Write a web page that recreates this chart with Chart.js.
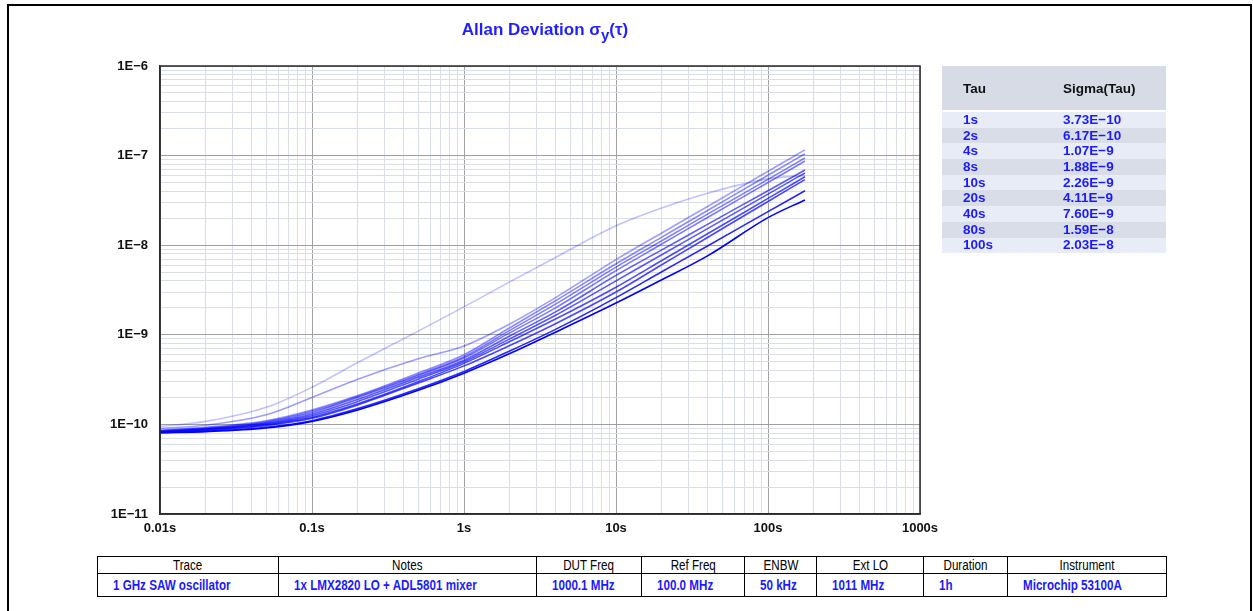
<!DOCTYPE html>
<html>
<head>
<meta charset="utf-8">
<script src="https://cdn.jsdelivr.net/npm/chart.js@4.4.0/dist/chart.umd.min.js"></script>
<style>
    body { margin: 0; background: #fff; font-family: "Liberation Sans", Arial, sans-serif; }
    #frame { position: absolute; left: 7px; top: 4px; width: 1241px; height: 700px; border: 2px solid #000; }
    #chartBox { position: absolute; left: 0; top: 0; width: 960px; height: 545px; }
    #title { position: absolute; left: 395px; width: 300px; top: 20px; text-align: center;
             color: #1f1fff; font-weight: bold; font-size: 17px; }
    #title sub { font-size: 15px; vertical-align: -5px; }
    #sigmaTable { position: absolute; left: 942px; top: 66px; width: 224px; border-collapse: collapse;
                  font-size: 13.5px; font-weight: bold; }
    #sigmaTable th { background: #d6dbe5; height: 44px; text-align: left; color: #111; padding: 0; }
    #sigmaTable td { height: 15.7px; padding: 0; color: #1a1aff; line-height: 14px; }
    #sigmaTable tr.odd td { background: #e8ecf7; }
    #sigmaTable tr.even td { background: #d8dde8; }
    #sigmaTable tr.gap td { height: 2px; background: #fff; }
    #infoTable { position: absolute; left: 97px; top: 556px; width: 1070px; border-collapse: collapse;
                 font-size: 14px; }
    #infoTable th, #infoTable td { border: 1.5px solid #000; padding: 0; white-space: nowrap; }
    #infoTable th { font-weight: normal; height: 15px; text-align: center; color: #000; }
    #infoTable td { font-weight: bold; height: 22px; color: #1a1aff; padding-left: 15px; }
    #infoTable span { display: inline-block; transform: scaleX(0.83); }
    #infoTable th span { transform-origin: center; }
    #infoTable td span { transform-origin: left; }
</style>
</head>
<body>
<div id="frame"></div>
<div id="chartBox"><canvas id="adevChart" width="960" height="545"></canvas></div>
<div id="title">Allan Deviation σ<sub>y</sub>(τ)</div>
<table id="sigmaTable"><thead></thead><tbody></tbody></table>
<table id="infoTable"><thead></thead><tbody></tbody></table>
<script>
// averaging times shared by every trace (s)
const tauSeconds = [0.01, 0.02, 0.05, 0.1, 0.2, 0.5, 1, 2, 4, 10, 20, 40, 100, 175];

// ADEV of each acquisition, darkest (latest) first
const run1 = [8.1e-11, 8.3e-11, 9.1e-11, 1.08e-10, 1.45e-10, 2.4e-10, 3.73e-10, 6.17e-10, 1.07e-9, 2.26e-9, 4.11e-9, 7.6e-9, 2.03e-8, 3.2e-8];
const run2 = [8.1e-11, 8.4e-11, 9.3e-11, 1.1e-10, 1.5e-10, 2.5e-10, 3.9e-10, 6.6e-10, 1.15e-9, 2.6e-9, 5.05e-9, 9.8e-9, 2.37e-8, 4.05e-8];
const run3 = [8.2e-11, 8.6e-11, 9.7e-11, 1.17e-10, 1.65e-10, 2.9e-10, 4.5e-10, 7.6e-10, 1.33e-9, 3.0e-9, 6.05e-9, 1.22e-8, 3.07e-8, 5.4e-8];
const run4 = [8.2e-11, 8.7e-11, 9.9e-11, 1.2e-10, 1.7e-10, 3.0e-10, 4.8e-10, 8.4e-10, 1.5e-9, 3.4e-9, 6.76e-9, 1.34e-8, 3.33e-8, 5.8e-8];
const run5 = [8.3e-11, 8.8e-11, 1.01e-10, 1.25e-10, 1.8e-10, 3.2e-10, 5.0e-10, 9.0e-10, 1.65e-9, 4.0e-9, 7.83e-9, 1.53e-8, 3.72e-8, 6.4e-8];
const run6 = [8.3e-11, 8.9e-11, 1.03e-10, 1.3e-10, 1.9e-10, 3.35e-10, 5.2e-10, 9.7e-10, 1.8e-9, 4.6e-9, 8.86e-9, 1.71e-8, 4.06e-8, 6.9e-8];
const run7 = [8.4e-11, 9.0e-11, 1.05e-10, 1.35e-10, 2.0e-10, 3.5e-10, 5.5e-10, 1.05e-9, 2.0e-9, 5.2e-9, 1.03e-8, 2.04e-8, 5.01e-8, 8.7e-8];
const run8 = [8.5e-11, 9.1e-11, 1.07e-10, 1.4e-10, 2.05e-10, 3.6e-10, 5.7e-10, 1.12e-9, 2.2e-9, 5.7e-9, 1.12e-8, 2.22e-8, 5.43e-8, 9.4e-8];
const run9 = [8.6e-11, 9.3e-11, 1.1e-10, 1.45e-10, 2.1e-10, 3.75e-10, 6.0e-10, 1.2e-9, 2.4e-9, 6.2e-9, 1.23e-8, 2.44e-8, 6.04e-8, 1.05e-7];
const run10 = [9.0e-11, 9.8e-11, 1.28e-10, 2.0e-10, 3.2e-10, 5.4e-10, 7.5e-10, 1.32e-9, 2.6e-9, 6.9e-9, 1.37e-8, 2.7e-8, 6.68e-8, 1.16e-7];
const run11 = [9.5e-11, 1.08e-10, 1.55e-10, 2.6e-10, 4.9e-10, 1.1e-9, 2.05e-9, 3.9e-9, 7.3e-9, 1.65e-8, 2.6e-8, 3.8e-8, 5.5e-8, 6.0e-8];

const runs = [run1, run2, run3, run4, run5, run6, run7, run8, run9, run10, run11];
const runAlpha = [1, 0.85, 0.72, 0.7, 0.66, 0.64, 0.52, 0.5, 0.46, 0.38, 0.24];

// axis tick labels (decades)
const xTickValues = [0.01, 0.1, 1, 10, 100, 1000];
const xTickLabels = ['0.01s', '0.1s', '1s', '10s', '100s', '1000s'];
const yTickValues = [1e-11, 1e-10, 1e-9, 1e-8, 1e-7, 1e-6];
const yTickLabels = ['1E\u221211', '1E\u221210', '1E\u22129', '1E\u22128', '1E\u22127', '1E\u22126'];

// table on the right
const tableTau = ['1s', '2s', '4s', '8s', '10s', '20s', '40s', '80s', '100s'];
const tableSigma = ['3.73E\u221210', '6.17E\u221210', '1.07E\u22129', '1.88E\u22129', '2.26E\u22129', '4.11E\u22129', '7.60E\u22129', '1.59E\u22128', '2.03E\u22128'];

// info table at the bottom
const infoHeaders = ['Trace', 'Notes', 'DUT Freq', 'Ref Freq', 'ENBW', 'Ext LO', 'Duration', 'Instrument'];
const infoValues = ['1 GHz SAW oscillator', '1x LMX2820 LO + ADL5801 mixer', '1000.1 MHz', '100.0 MHz', '50 kHz', '1011 MHz', '1h', 'Microchip 53100A'];
const infoWidths = [181, 258, 105, 103, 72, 107, 85, 159];

function isDecade(v) {
    const l = Math.log10(v);
    return Math.abs(l - Math.round(l)) < 1e-6;
}

function decadeTicks(lo, hi) {
    const ticks = [];
    for (let d = lo; d < hi; d++) {
        for (let m = 1; m <= 9; m++) {
            ticks.push({ value: m * Math.pow(10, d) });
        }
    }
    ticks.push({ value: Math.pow(10, hi) });
    return ticks;
}

function gridColor(ctx) {
    return isDecade(ctx.tick.value) ? '#a0a0a0' : '#d9dee7';
}

function labelFor(values, labels, v) {
    for (let i = 0; i < values.length; i++) {
        if (Math.abs(Math.log10(values[i]) - Math.log10(v)) < 1e-6) return labels[i];
    }
    return '';
}

const plotFrame = {
    id: 'plotFrame',
    afterDraw(chart) {
        const a = chart.chartArea;
        const c = chart.ctx;
        c.save();
        c.strokeStyle = '#2b2b2b';
        c.lineWidth = 1.5;
        c.strokeRect(a.left, a.top, a.right - a.left, a.bottom - a.top);
        c.restore();
    }
};

const datasets = runs.map((r, i) => ({
    data: r.map((s, j) => ({ x: tauSeconds[j], y: s })),
    borderColor: 'rgba(0, 0, 255, ' + runAlpha[i] + ')',
    borderWidth: 1.6,
    pointRadius: 0,
    fill: false,
    cubicInterpolationMode: 'monotone'
}));

new Chart(document.getElementById('adevChart').getContext('2d'), {
    type: 'line',
    data: { datasets: datasets },
    plugins: [plotFrame],
    options: {
        responsive: false,
        animation: false,
        devicePixelRatio: 1,
        layout: { padding: { top: 66, right: 40, left: 0, bottom: 0 } },
        plugins: { legend: { display: false }, title: { display: false }, tooltip: { enabled: false } },
        scales: {
            x: {
                type: 'logarithmic',
                min: 0.01,
                max: 1000,
                afterBuildTicks: axis => { axis.ticks = decadeTicks(-2, 3); },
                afterFit: axis => { axis.height = 31; },
                grid: { color: gridColor, drawTicks: false },
                border: { color: '#2b2b2b', width: 1.5 },
                ticks: {
                    autoSkip: false,
                    maxRotation: 0,
                    padding: 7,
                    color: '#111',
                    font: { family: 'Liberation Sans', size: 13, weight: 'bold' },
                    callback: v => labelFor(xTickValues, xTickLabels, v)
                }
            },
            y: {
                type: 'logarithmic',
                min: 1e-11,
                max: 1e-6,
                afterBuildTicks: axis => { axis.ticks = decadeTicks(-11, -6); },
                afterFit: axis => { axis.width = 160; },
                grid: { color: gridColor, drawTicks: false },
                border: { color: '#2b2b2b', width: 1.5 },
                ticks: {
                    autoSkip: false,
                    padding: 12,
                    color: '#111',
                    font: { family: 'Liberation Sans', size: 13, weight: 'bold' },
                    callback: v => labelFor(yTickValues, yTickLabels, v)
                }
            }
        }
    }
});

// right-hand sigma table
const sigmaTable = document.getElementById('sigmaTable');
sigmaTable.querySelector('thead').innerHTML =
    '<tr><th style="padding-left:21px;width:78px">Tau</th><th style="padding-left:22px">Sigma(Tau)</th></tr>';
let rowsHtml = '<tr class="gap"><td></td><td></td></tr>';
tableTau.forEach((t, i) => {
    rowsHtml += '<tr class="' + (i % 2 === 0 ? 'odd' : 'even') + '"><td style="padding-left:21px">' + t +
        '</td><td style="padding-left:22px">' + tableSigma[i] + '</td></tr>';
});
sigmaTable.querySelector('tbody').innerHTML = rowsHtml;

// bottom info table
const infoTable = document.getElementById('infoTable');
infoTable.querySelector('thead').innerHTML = '<tr>' +
    infoHeaders.map((h, i) => '<th style="width:' + infoWidths[i] + 'px"><span>' + h + '</span></th>').join('') + '</tr>';
infoTable.querySelector('tbody').innerHTML = '<tr>' +
    infoValues.map(v => '<td><span>' + v + '</span></td>').join('') + '</tr>';
</script>
</body>
</html>
